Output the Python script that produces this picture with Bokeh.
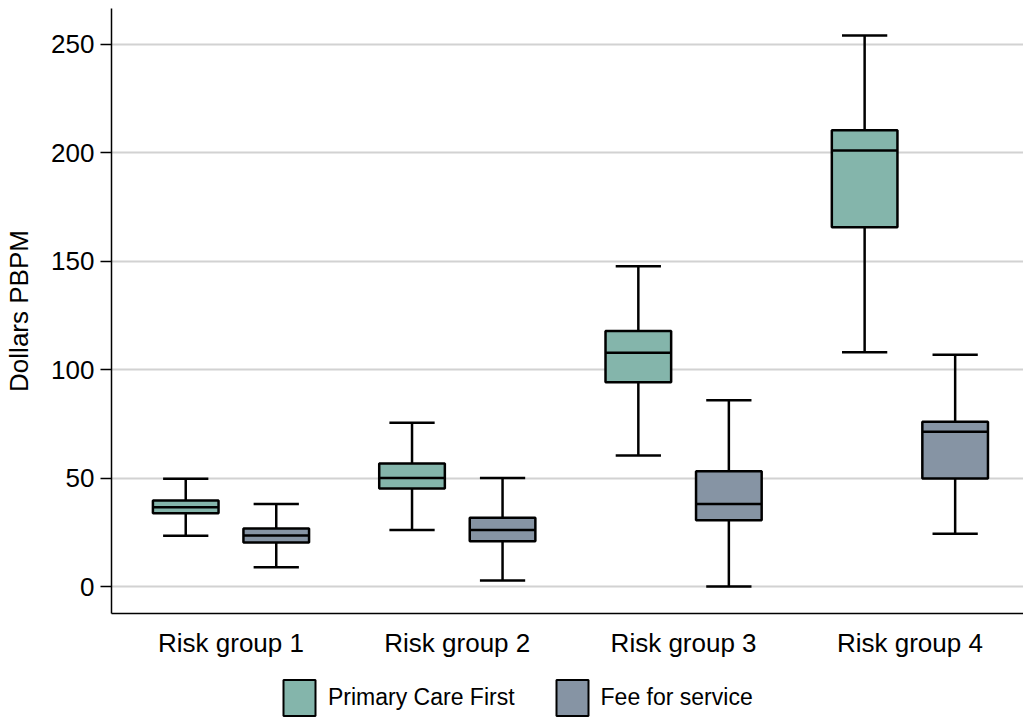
from bokeh.plotting import figure
from bokeh.layouts import column
from bokeh.models import Range1d, FixedTicker, Legend, LegendItem, ColumnDataSource
from bokeh.embed import file_html
from bokeh.resources import INLINE

categories = ["Risk group 1", "Risk group 2", "Risk group 3", "Risk group 4"]
series = ["Primary Care First", "Fee for service"]

pcf_lower = [23.4, 26.1, 60.4, 108.1]
pcf_q1 = [33.8, 45.2, 94.2, 165.7]
pcf_median = [36.6, 50.0, 107.8, 201.1]
pcf_q3 = [39.7, 56.7, 117.8, 210.5]
pcf_upper = [49.7, 75.5, 147.7, 254.2]

ffs_lower = [8.9, 2.8, 0.0, 24.3]
ffs_q1 = [20.3, 20.9, 30.6, 49.8]
ffs_median = [23.5, 26.1, 38.1, 71.4]
ffs_q3 = [26.8, 31.7, 53.2, 76.0]
ffs_upper = [38.0, 50.1, 85.9, 106.9]

y_ticks = [0, 50, 100, 150, 200, 250]

colors = ["#84B5AB", "#8694A4"]
offsets = [-0.2, 0.2]
box_w = 0.29
cap_w = 0.2
FONT = "Liberation Sans"

W = 1023
p = figure(width=W, height=660, output_backend="svg", toolbar_location=None,
           x_range=Range1d(0.472, 4.502), y_range=Range1d(-12.45, 266.6),
           min_border_left=111, min_border_right=0, min_border_top=8, min_border_bottom=47)
p.outline_line_color = None
p.background_fill_color = "white"
p.border_fill_color = "white"

p.xgrid.grid_line_color = None
p.ygrid.grid_line_color = "#d2d2d2"
p.ygrid.grid_line_width = 2

p.yaxis.ticker = FixedTicker(ticks=y_ticks)
p.yaxis.minor_tick_line_color = None
p.yaxis.major_tick_out = 11
p.yaxis.major_tick_in = 0
p.yaxis.major_tick_line_width = 1.5
p.yaxis.major_tick_line_color = "black"
p.yaxis.axis_line_color = "black"
p.yaxis.axis_line_width = 1.5
p.yaxis.major_label_standoff = 6
p.yaxis.major_label_text_font = FONT
p.yaxis.major_label_text_font_size = "26px"
p.yaxis.major_label_text_color = "black"
p.yaxis.axis_label = "Dollars PBPM"
p.yaxis.axis_label_text_font = FONT
p.yaxis.axis_label_text_font_size = "26px"
p.yaxis.axis_label_text_font_style = "normal"
p.yaxis.axis_label_text_color = "black"
p.yaxis.axis_label_standoff = 14

xticks = [i + 1 for i in range(len(categories))]
p.xaxis.ticker = FixedTicker(ticks=xticks)
p.xaxis.major_label_overrides = {t: c for t, c in zip(xticks, categories)}
p.xaxis.minor_tick_line_color = None
p.xaxis.major_tick_out = 0
p.xaxis.major_tick_in = 0
p.xaxis.axis_line_color = "black"
p.xaxis.axis_line_width = 1.5
p.xaxis.major_label_standoff = 14
p.xaxis.major_label_text_font = FONT
p.xaxis.major_label_text_font_size = "26px"
p.xaxis.major_label_text_color = "black"

stats = [
    (pcf_lower, pcf_q1, pcf_median, pcf_q3, pcf_upper),
    (ffs_lower, ffs_q1, ffs_median, ffs_q3, ffs_upper),
]

for k, (lo, q1, med, q3, up) in enumerate(stats):
    xs = [i + 1 + offsets[k] for i in range(len(categories))]
    src = ColumnDataSource(dict(
        x=xs, lo=lo, q1=q1, med=med, q3=q3, up=up,
        cx0=[x - cap_w / 2 for x in xs], cx1=[x + cap_w / 2 for x in xs],
        mx0=[x - box_w / 2 for x in xs], mx1=[x + box_w / 2 for x in xs],
    ))
    p.segment(x0="x", y0="q3", x1="x", y1="up", source=src, line_color="black", line_width=2.5)
    p.segment(x0="x", y0="lo", x1="x", y1="q1", source=src, line_color="black", line_width=2.5)
    p.segment(x0="cx0", y0="up", x1="cx1", y1="up", source=src, line_color="black", line_width=2.5)
    p.segment(x0="cx0", y0="lo", x1="cx1", y1="lo", source=src, line_color="black", line_width=2.5)
    p.vbar(x="x", width=box_w, top="q3", bottom="q1", source=src,
           fill_color=colors[k], line_color="black", line_width=2.5)
    p.segment(x0="mx0", y0="med", x1="mx1", y1="med", source=src, line_color="black", line_width=2.5)

# legend strip below the chart (its frame is aligned with the chart's frame)
lg = figure(width=W, height=57, output_backend="svg", toolbar_location=None,
            x_range=Range1d(0, 1), y_range=Range1d(0, 1),
            x_axis_location=None, y_axis_location=None,
            min_border_left=111, min_border_right=0, min_border_top=0, min_border_bottom=0)
lg.grid.grid_line_color = None
lg.outline_line_color = None
lg.border_fill_color = "white"
lg.background_fill_color = "white"

nan = float("nan")
legend_renderers = []
for k in range(len(series)):
    # legend-key source only (no visible mark)
    key_src = ColumnDataSource(dict(x=[nan], top=[nan], bottom=[nan]))
    r = lg.vbar(x="x", width=0.1, top="top", bottom="bottom", source=key_src,
                fill_color=colors[k], line_color="black", line_width=2)
    legend_renderers.append(r)

legend = Legend(items=[LegendItem(label=series[k], renderers=[legend_renderers[k]]) for k in range(len(series))],
                orientation="horizontal", location=(168, -3))
legend.glyph_width = 40
legend.glyph_height = 45
legend.label_standoff = 9
legend.spacing = 37
legend.padding = 0
legend.margin = 0
legend.border_line_color = None
legend.background_fill_alpha = 0
legend.label_text_font = FONT
legend.label_text_font_size = "23px"
legend.label_text_color = "black"
lg.add_layout(legend, "center")

layout = column(p, lg, spacing=0)
open("out.html", "w").write(file_html(layout, INLINE))
